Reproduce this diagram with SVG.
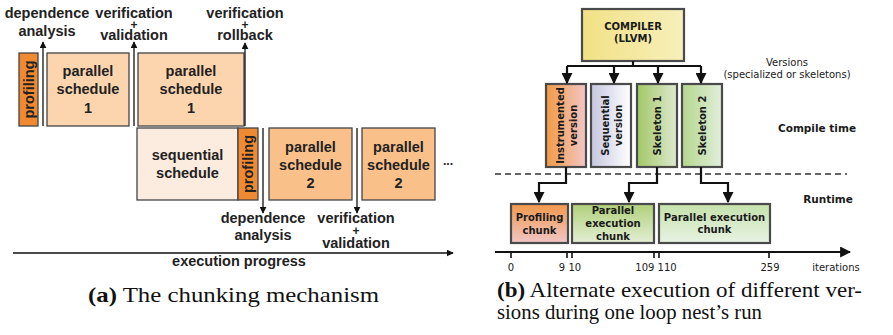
<svg xmlns="http://www.w3.org/2000/svg" width="893" height="335" viewBox="0 0 893 335">
  <style>
    .lbl { font-family: "Liberation Sans", Arial, sans-serif; font-weight: bold; font-size: 14.5px; fill: #222; text-anchor: middle; }
    .plus { font-size: 12px; }
    .box { stroke: #444; stroke-width: 1.3; }
    .prof { fill: #ef8a32; }
    .ps1 { fill: #fcd5ae; }
    .seq { fill: #fcecdf; }
    .ps2 { fill: #f9c08a; }
    .ln { stroke: #111; stroke-width: 1.3; fill: none; }
    .rt { font-family: "DejaVu Sans", Verdana, sans-serif; fill: #1a1a1a; text-anchor: middle; }
    .rb { font-weight: bold; font-size: 10px; }
    .rn { font-size: 10px; }
    .rbox { stroke: #4a4a4a; stroke-width: 2.2; }
    .con { stroke: #111; stroke-width: 2.2; fill: none; }
    .cap { font-family: "Liberation Serif", "Times New Roman", serif; font-size: 21px; fill: #111; }
  </style>
  <defs>
    <marker id="ah" viewBox="0 0 10 10" refX="9" refY="5" markerWidth="7" markerHeight="7" markerUnits="userSpaceOnUse" orient="auto">
      <path d="M0,0 L10,5 L0,10 z" fill="#111"/>
    </marker>
    <marker id="ahb" viewBox="0 0 10 10" refX="9" refY="5" markerWidth="5" markerHeight="5" orient="auto">
      <path d="M0,0 L10,5 L0,10 z" fill="#111"/>
    </marker>
    <linearGradient id="gComp" x1="0" y1="0" x2="1" y2="0">
      <stop offset="0" stop-color="#f1e185"/><stop offset="1" stop-color="#f7efbb"/>
    </linearGradient>
    <linearGradient id="gInst" x1="0" y1="0" x2="1" y2="0">
      <stop offset="0" stop-color="#f29a45"/><stop offset="1" stop-color="#f2c6c6"/>
    </linearGradient>
    <linearGradient id="gSeq" x1="0" y1="0" x2="1" y2="0">
      <stop offset="0" stop-color="#c6c6e0"/><stop offset="1" stop-color="#ffffff"/>
    </linearGradient>
    <linearGradient id="gSk1" x1="0" y1="0" x2="1" y2="0">
      <stop offset="0" stop-color="#a3c767"/><stop offset="1" stop-color="#dde9cf"/>
    </linearGradient>
    <linearGradient id="gSk2" x1="0" y1="0" x2="1" y2="0">
      <stop offset="0" stop-color="#b4d78e"/><stop offset="1" stop-color="#e1eedb"/>
    </linearGradient>
    <linearGradient id="gPc" x1="0" y1="0" x2="0" y2="1">
      <stop offset="0" stop-color="#f2984b"/><stop offset="1" stop-color="#f0c6c6"/>
    </linearGradient>
    <linearGradient id="gPe" x1="0" y1="0" x2="0" y2="1">
      <stop offset="0" stop-color="#b0d07a"/><stop offset="1" stop-color="#e3eed4"/>
    </linearGradient>
    <linearGradient id="gPe2" x1="0" y1="0" x2="0" y2="1">
      <stop offset="0" stop-color="#c5e1ab"/><stop offset="1" stop-color="#e8f3e4"/>
    </linearGradient>
  </defs>

  <!-- ===== Left panel: chunking mechanism ===== -->
  <g id="profiling-1">
    <rect class="box prof" x="19" y="53" width="19" height="73"/>
    <text class="lbl" transform="translate(33.5,89.5) rotate(-90)">profiling</text>
  </g>
  <g id="parallel-schedule-1a">
    <rect class="box ps1" x="47" y="53" width="82" height="73"/>
    <text class="lbl"><tspan x="88" y="76">parallel</tspan><tspan x="88" y="94">schedule</tspan><tspan x="88" y="113">1</tspan></text>
  </g>
  <g id="parallel-schedule-1b">
    <rect class="box ps1" x="138" y="53" width="106" height="73"/>
    <text class="lbl"><tspan x="191" y="76">parallel</tspan><tspan x="191" y="94">schedule</tspan><tspan x="191" y="113">1</tspan></text>
  </g>
  <g id="sequential-schedule">
    <rect class="box seq" x="137" y="128" width="101" height="72"/>
    <text class="lbl"><tspan x="187.5" y="160">sequential</tspan><tspan x="187.5" y="178">schedule</tspan></text>
  </g>
  <g id="profiling-2">
    <rect class="box prof" x="238" y="128" width="20" height="72"/>
    <text class="lbl" transform="translate(253,164) rotate(-90)">profiling</text>
  </g>
  <g id="parallel-schedule-2a">
    <rect class="box ps2" x="269" y="128" width="83" height="72"/>
    <text class="lbl"><tspan x="310.5" y="152">parallel</tspan><tspan x="310.5" y="170">schedule</tspan><tspan x="310.5" y="188">2</tspan></text>
  </g>
  <g id="parallel-schedule-2b">
    <rect class="box ps2" x="362" y="128" width="73" height="72"/>
    <text class="lbl"><tspan x="398.5" y="152">parallel</tspan><tspan x="398.5" y="170">schedule</tspan><tspan x="398.5" y="188">2</tspan></text>
  </g>
  <text class="lbl" x="448" y="165" style="font-size:12px">...</text>

  <!-- event labels -->
  <g id="event-labels">
    <text class="lbl"><tspan x="47" y="18">dependence</tspan><tspan x="47" y="36">analysis</tspan></text>
    <text class="lbl" x="134" y="18">verification</text>
    <text class="lbl plus" x="134" y="29">+</text>
    <text class="lbl" x="134" y="40">validation</text>
    <text class="lbl" x="245" y="18">verification</text>
    <text class="lbl plus" x="245" y="29">+</text>
    <text class="lbl" x="245" y="40">rollback</text>
    <text class="lbl"><tspan x="263" y="223">dependence</tspan><tspan x="263" y="240">analysis</tspan></text>
    <text class="lbl" x="356" y="223">verification</text>
    <text class="lbl plus" x="356" y="235">+</text>
    <text class="lbl" x="356" y="248">validation</text>
    <text class="lbl" x="239" y="266">execution progress</text>
  </g>

  <g id="event-arrows">
    <line class="ln" x1="43" y1="126" x2="43" y2="42" marker-end="url(#ah)"/>
    <line class="ln" x1="134" y1="126" x2="134" y2="42" marker-end="url(#ah)"/>
    <line class="ln" x1="245" y1="126" x2="245" y2="43" marker-end="url(#ah)"/>
    <line class="ln" x1="263" y1="128" x2="263" y2="213" marker-end="url(#ah)"/>
    <line class="ln" x1="357" y1="128" x2="357" y2="213" marker-end="url(#ah)"/>
    <line class="ln" x1="13" y1="253" x2="453" y2="253" marker-end="url(#ah)"/>
  </g>

  <text class="cap" x="88" y="302" textLength="291" lengthAdjust="spacingAndGlyphs"><tspan font-weight="bold">(a)</tspan> The chunking mechanism</text>

  <!-- ===== Right panel: versions and runtime ===== -->
  <g id="compiler">
    <rect class="rbox" x="582" y="9" width="102" height="52" fill="url(#gComp)"/>
    <text class="rt rb"><tspan x="633" y="30">COMPILER</tspan><tspan x="633" y="42">(LLVM)</tspan></text>
  </g>
  <text class="rt rn"><tspan x="787" y="66">Versions</tspan><tspan x="787" y="78">(specialized or skeletons)</tspan></text>

  <g id="instrumented-version">
    <rect class="rbox" x="546" y="84" width="40" height="83" fill="url(#gInst)"/>
    <text class="rt rb" transform="translate(566,125.5) rotate(-90)"><tspan x="0" y="-2.5">Instrumented</tspan><tspan x="0" y="10.5">version</tspan></text>
  </g>
  <g id="sequential-version">
    <rect class="rbox" x="591" y="84" width="40" height="83" fill="url(#gSeq)"/>
    <text class="rt rb" transform="translate(611,125.5) rotate(-90)"><tspan x="0" y="-2.5">Sequential</tspan><tspan x="0" y="10.5">version</tspan></text>
  </g>
  <g id="skeleton-1">
    <rect class="rbox" x="637" y="84" width="40" height="83" fill="url(#gSk1)"/>
    <text class="rt rb" transform="translate(657,125.5) rotate(-90)" x="0" y="3.5">Skeleton 1</text>
  </g>
  <g id="skeleton-2">
    <rect class="rbox" x="682" y="84" width="40" height="83" fill="url(#gSk2)"/>
    <text class="rt rb" transform="translate(702,125.5) rotate(-90)" x="0" y="3.5">Skeleton 2</text>
  </g>

  <text class="rt rb" x="817" y="132" style="font-size:10.5px">Compile time</text>
  <line x1="495" y1="174" x2="847" y2="174" stroke="#333" stroke-width="1.4" stroke-dasharray="6,4"/>
  <text class="rt rb" x="828" y="203" style="font-size:10.5px">Runtime</text>

  <g id="profiling-chunk">
    <rect class="rbox" x="511" y="204" width="57" height="39" fill="url(#gPc)"/>
    <text class="rt rb"><tspan x="539.5" y="221">Profiling</tspan><tspan x="539.5" y="234">chunk</tspan></text>
  </g>
  <g id="parallel-chunk-1">
    <rect class="rbox" x="572" y="204" width="82" height="39" fill="url(#gPe)"/>
    <text class="rt rb"><tspan x="613" y="213.5">Parallel</tspan><tspan x="613" y="227">execution</tspan><tspan x="613" y="240">chunk</tspan></text>
  </g>
  <g id="parallel-chunk-2">
    <rect class="rbox" x="659" y="204" width="111" height="39" fill="url(#gPe2)"/>
    <text class="rt rb"><tspan x="714.5" y="221">Parallel execution</tspan><tspan x="714.5" y="233">chunk</tspan></text>
  </g>

  <g id="connectors">
    <path class="con" d="M633,61 V66"/>
    <path class="con" d="M567,66 H701"/>
    <path class="con" d="M567,66 V83" marker-end="url(#ahb)"/>
    <path class="con" d="M614,66 V83" marker-end="url(#ahb)"/>
    <path class="con" d="M658,66 V83" marker-end="url(#ahb)"/>
    <path class="con" d="M701,66 V83" marker-end="url(#ahb)"/>
    <path class="con" d="M566,167 V183 H539 V202" marker-end="url(#ahb)"/>
    <path class="con" d="M657,167 V183 H629 V202" marker-end="url(#ahb)"/>
    <path class="con" d="M701,167 V183 H728 V202" marker-end="url(#ahb)"/>
  </g>

  <g id="iteration-axis">
    <path class="con" d="M495,252 H850" marker-end="url(#ahb)"/>
    <path d="M511,252 v6 M567,252 v6 M572,252 v6 M654,252 v6 M659,252 v6 M769,252 v6" stroke="#111" stroke-width="1.6"/>
    <text class="rt rn" x="511" y="271">0</text>
    <text class="rt rn" x="570" y="271">9 10</text>
    <text class="rt rn" x="656" y="271">109 110</text>
    <text class="rt rn" x="770" y="271">259</text>
    <text class="rt rn" x="836" y="271">iterations</text>
  </g>

  <text class="cap" x="497" y="297" textLength="365" lengthAdjust="spacingAndGlyphs"><tspan font-weight="bold">(b)</tspan> Alternate execution of different ver-</text>
  <text class="cap" x="497" y="319" textLength="265" lengthAdjust="spacingAndGlyphs">sions during one loop nest’s run</text>
</svg>
